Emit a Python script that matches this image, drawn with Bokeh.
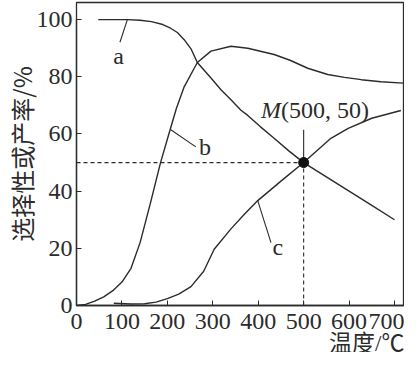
from bokeh.plotting import figure
from bokeh.models import Range1d, FixedTicker, Label, Title
from bokeh.embed import file_html
from bokeh.resources import INLINE

# ---- data ----
a_x = [48, 80, 112, 140, 165, 190, 207, 222, 237, 252, 266, 296, 318, 340, 362, 377, 405, 435, 468, 500, 550, 600, 650, 700]
a_y = [100, 100, 100, 99.8, 99.3, 98.3, 97, 95.5, 93, 89.8, 85, 79.6, 75.5, 72, 68.3, 66.5, 62.5, 58.5, 54, 50, 45, 40, 35, 30]

b_x = [0, 20, 40, 60, 80, 100, 120, 140, 163, 185, 207, 220, 237, 266, 296, 340, 377, 435, 470, 509, 553, 590, 627, 670, 719]
b_y = [0, 0.4, 1.5, 3, 5.2, 8.2, 13, 22, 36, 50, 62, 69, 76.5, 85, 89, 90.7, 90, 87.8, 85.8, 83, 80.8, 79.8, 79, 78.3, 77.8]

c_x = [82, 120, 150, 175, 200, 225, 252, 280, 303, 340, 370, 399, 450, 500, 560, 598, 650, 714]
c_y = [0.8, 0.5, 0.6, 1.2, 2.4, 4, 6.6, 12, 19.7, 26.8, 32, 36.7, 43.5, 50, 58.5, 62, 65.5, 68.2]

m_x = [500]
m_y = [50]

x_ticks = [0, 100, 200, 300, 400, 500, 600, 700]
y_ticks = [0, 20, 40, 60, 80, 100]

x_label = "温度/℃"
y_label = "选择性或产率/%"

LINE = "#2b2b2b"
TXT = "#2b2b2b"
SERIF = "Liberation Serif"
CJK = "Noto Sans CJK SC"
CJK_TITLE = "Liberation Serif, Noto Sans CJK SC"

p = figure(width=404, height=352, output_backend="svg", toolbar_location=None,
           x_range=Range1d(0, 722), y_range=Range1d(0, 106),
           min_border_left=0, min_border_right=0, min_border_top=2, min_border_bottom=0)
p.background_fill_color = "white"
p.border_fill_color = "white"
p.outline_line_color = LINE
p.outline_line_width = 1.3
p.grid.visible = False

for ax in (p.xaxis, p.yaxis):
    ax.axis_line_color = LINE
    ax.axis_line_width = 1.3
    ax.major_tick_in = 5
    ax.major_tick_out = 0
    ax.minor_tick_line_color = None
    ax.major_tick_line_color = LINE
    ax.major_label_text_font = SERIF
    ax.major_label_text_font_size = "24px"
    ax.major_label_text_color = TXT
p.xaxis.ticker = FixedTicker(ticks=x_ticks)
p.yaxis.ticker = FixedTicker(ticks=y_ticks)
p.xaxis.major_label_standoff = 8
p.yaxis.major_label_standoff = 4
p.yaxis.bounds = (0, 100)

p.yaxis.axis_label = y_label
p.yaxis.axis_label_text_font = CJK
p.yaxis.axis_label_text_font_size = "24px"
p.yaxis.axis_label_text_font_style = "normal"
p.yaxis.axis_label_text_color = TXT
p.yaxis.axis_label_standoff = -5

xt = Title(text=x_label, align="right", text_font=CJK_TITLE, text_font_size="23px",
           text_font_style="normal", text_color=TXT, standoff=-6, offset=0)
p.add_layout(xt, "below")

# dashed guide lines to M
p.line([0, m_x[0]], [m_y[0], m_y[0]], line_color=LINE, line_width=1.1, line_dash="4 3")
p.line([m_x[0], m_x[0]], [0, m_y[0]], line_color=LINE, line_width=1.1, line_dash="4 3")
p.line([m_x[0], m_x[0]], [m_y[0], 61.5], line_color=LINE, line_width=1.1)

# curves
for xs, ys in ((a_x, a_y), (b_x, b_y), (c_x, c_y)):
    p.line(xs, ys, line_color=LINE, line_width=1.4)

p.scatter(m_x, m_y, size=10, fill_color="#111111", line_color="#111111")

# curve leaders and letters
p.line([112, 95.6], [100, 92.1], line_color=LINE, line_width=1.1)
p.line([207.5, 262.7], [61.5, 55.5], line_color=LINE, line_width=1.1)
p.line([399, 428], [36.7, 22], line_color=LINE, line_width=1.1)
for txt, tx, ty in (("a", 92.7, 87.3), ("b", 282.6, 55.5), ("c", 443, 20.3)):
    p.add_layout(Label(x=tx, y=ty, text=txt, text_font=SERIF, text_font_size="24px",
                       text_color=TXT, text_align="center", text_baseline="middle"))

# M label
p.add_layout(Label(x=450, y=68.3, text="M", text_font=SERIF, text_font_style="italic",
                   text_font_size="24px", text_color=TXT, text_align="right", text_baseline="middle"))
p.add_layout(Label(x=450, y=68.3, text="(500, 50)", text_font=SERIF,
                   text_font_size="24px", text_color=TXT, text_align="left", text_baseline="middle"))

open("out.html", "w").write(file_html(p, INLINE))
